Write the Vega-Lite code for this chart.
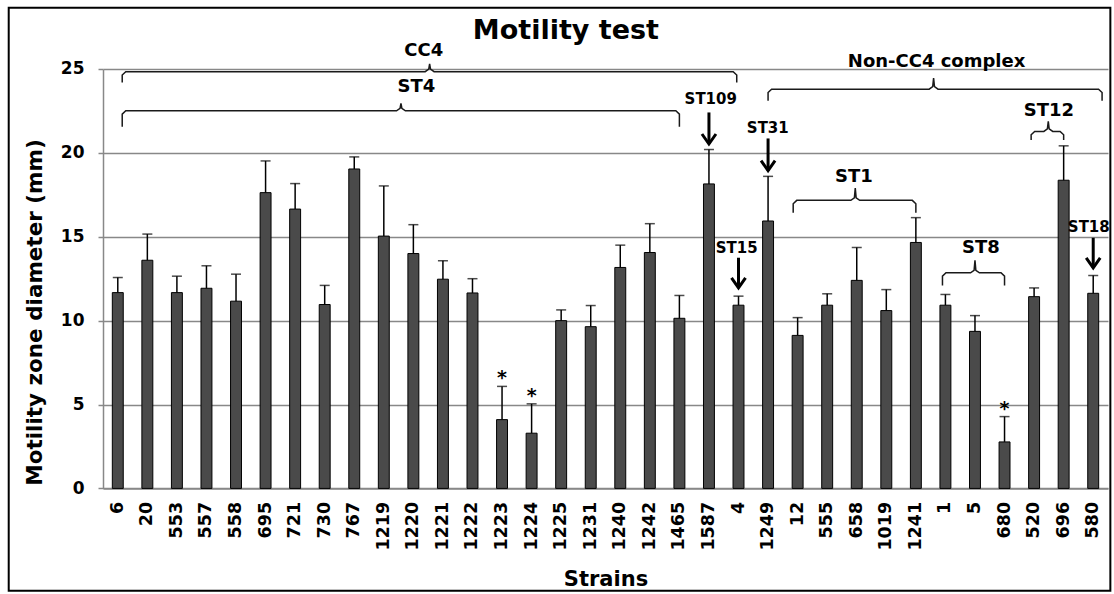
{
  "$schema": "https://vega.github.io/schema/vega-lite/v6.json",
  "width": 1005,
  "height": 419.4,
  "padding": {"left": 7, "top": 6, "right": 0, "bottom": 0},
  "autosize": {"type": "pad"},
  "background": "white",
  "config": {"view": {"stroke": null}, "font": "DejaVu Sans"},
  "datasets": {
    "bars": [
      {"strain": "6", "mean": 11.67, "err": 12.57},
      {"strain": "20", "mean": 13.6, "err": 15.16},
      {"strain": "553", "mean": 11.67, "err": 12.65},
      {"strain": "557", "mean": 11.93, "err": 13.27},
      {"strain": "558", "mean": 11.16, "err": 12.77},
      {"strain": "695", "mean": 17.63, "err": 19.52},
      {"strain": "721", "mean": 16.65, "err": 18.17},
      {"strain": "730", "mean": 10.96, "err": 12.1},
      {"strain": "767", "mean": 19.04, "err": 19.76},
      {"strain": "1219", "mean": 15.04, "err": 18.03},
      {"strain": "1220", "mean": 14.0, "err": 15.72},
      {"strain": "1221", "mean": 12.47, "err": 13.57},
      {"strain": "1222", "mean": 11.65, "err": 12.5},
      {"strain": "1223", "mean": 4.1, "err": 6.08, "sig": "*"},
      {"strain": "1224", "mean": 3.29, "err": 5.04, "sig": "*"},
      {"strain": "1225", "mean": 10.0, "err": 10.64},
      {"strain": "1231", "mean": 9.64, "err": 10.9},
      {"strain": "1240", "mean": 13.17, "err": 14.5},
      {"strain": "1242", "mean": 14.06, "err": 15.78},
      {"strain": "1465", "mean": 10.14, "err": 11.5},
      {"strain": "1587", "mean": 18.15, "err": 20.2},
      {"strain": "4", "mean": 10.92, "err": 11.46},
      {"strain": "1249", "mean": 15.94, "err": 18.6},
      {"strain": "12", "mean": 9.12, "err": 10.18},
      {"strain": "555", "mean": 10.92, "err": 11.6},
      {"strain": "658", "mean": 12.4, "err": 14.36},
      {"strain": "1019", "mean": 10.6, "err": 11.85},
      {"strain": "1241", "mean": 14.66, "err": 16.14},
      {"strain": "1", "mean": 10.92, "err": 11.56},
      {"strain": "5", "mean": 9.36, "err": 10.3},
      {"strain": "680", "mean": 2.77, "err": 4.28, "sig": "*"},
      {"strain": "520", "mean": 11.43, "err": 11.95},
      {"strain": "696", "mean": 18.37, "err": 20.42},
      {"strain": "580", "mean": 11.63, "err": 12.69}
    ],
    "labels": [
      {"t": "Motility test", "lvl": "title", "x": 15.66, "y": 27.25},
      {"t": "CC4", "lvl": "group", "x": 10.85, "y": 26.08},
      {"t": "ST4", "lvl": "group", "x": 10.6, "y": 23.9},
      {"t": "Non-CC4 complex", "lvl": "group", "x": 28.2, "y": 25.44},
      {"t": "ST1", "lvl": "group", "x": 25.4, "y": 18.57},
      {"t": "ST8", "lvl": "group", "x": 29.7, "y": 14.3},
      {"t": "ST12", "lvl": "group", "x": 32.0, "y": 22.5},
      {"t": "ST109", "lvl": "st", "x": 20.56, "y": 23.19},
      {"t": "ST31", "lvl": "st", "x": 22.49, "y": 21.48},
      {"t": "ST15", "lvl": "st", "x": 21.44, "y": 14.3},
      {"t": "ST18", "lvl": "st", "x": 33.35, "y": 15.6}
    ],
    "arrows": [
      {"a": "ST109", "x": 20.5, "y": 22.41, "tip": 20.53},
      {"a": "ST31", "x": 22.5, "y": 20.86, "tip": 18.94},
      {"a": "ST15", "x": 21.5, "y": 13.75, "tip": 11.95},
      {"a": "ST18", "x": 33.5, "y": 14.94, "tip": 13.15}
    ],
    "brackets": [
      {"g": "CC4", "o": 1, "x": 0.65, "y": 24.2},
      {"g": "CC4", "o": 2, "x": 0.65, "y": 24.64},
      {"g": "CC4", "o": 3, "x": 0.77, "y": 24.84},
      {"g": "CC4", "o": 4, "x": 10.9, "y": 24.84},
      {"g": "CC4", "o": 5, "x": 11.02, "y": 24.99},
      {"g": "CC4", "o": 6, "x": 11.05, "y": 25.3},
      {"g": "CC4", "o": 7, "x": 11.08, "y": 24.99},
      {"g": "CC4", "o": 8, "x": 11.2, "y": 24.84},
      {"g": "CC4", "o": 9, "x": 21.32, "y": 24.84},
      {"g": "CC4", "o": 10, "x": 21.44, "y": 24.64},
      {"g": "CC4", "o": 11, "x": 21.44, "y": 24.2},
      {"g": "ST4", "o": 1, "x": 0.65, "y": 21.55},
      {"g": "ST4", "o": 2, "x": 0.65, "y": 22.31},
      {"g": "ST4", "o": 3, "x": 0.77, "y": 22.51},
      {"g": "ST4", "o": 4, "x": 9.93, "y": 22.51},
      {"g": "ST4", "o": 5, "x": 10.05, "y": 22.66},
      {"g": "ST4", "o": 6, "x": 10.08, "y": 22.95},
      {"g": "ST4", "o": 7, "x": 10.11, "y": 22.66},
      {"g": "ST4", "o": 8, "x": 10.23, "y": 22.51},
      {"g": "ST4", "o": 9, "x": 19.38, "y": 22.51},
      {"g": "ST4", "o": 10, "x": 19.5, "y": 22.31},
      {"g": "ST4", "o": 11, "x": 19.5, "y": 21.55},
      {"g": "NonCC4", "o": 1, "x": 22.5, "y": 23.1},
      {"g": "NonCC4", "o": 2, "x": 22.5, "y": 23.6},
      {"g": "NonCC4", "o": 3, "x": 22.62, "y": 23.8},
      {"g": "NonCC4", "o": 4, "x": 27.95, "y": 23.8},
      {"g": "NonCC4", "o": 5, "x": 28.07, "y": 23.95},
      {"g": "NonCC4", "o": 6, "x": 28.1, "y": 24.46},
      {"g": "NonCC4", "o": 7, "x": 28.13, "y": 23.95},
      {"g": "NonCC4", "o": 8, "x": 28.25, "y": 23.8},
      {"g": "NonCC4", "o": 9, "x": 33.68, "y": 23.8},
      {"g": "NonCC4", "o": 10, "x": 33.8, "y": 23.6},
      {"g": "NonCC4", "o": 11, "x": 33.8, "y": 23.1},
      {"g": "ST1", "o": 1, "x": 23.35, "y": 16.43},
      {"g": "ST1", "o": 2, "x": 23.35, "y": 16.97},
      {"g": "ST1", "o": 3, "x": 23.47, "y": 17.17},
      {"g": "ST1", "o": 4, "x": 25.3, "y": 17.17},
      {"g": "ST1", "o": 5, "x": 25.42, "y": 17.32},
      {"g": "ST1", "o": 6, "x": 25.45, "y": 17.9},
      {"g": "ST1", "o": 7, "x": 25.48, "y": 17.32},
      {"g": "ST1", "o": 8, "x": 25.6, "y": 17.17},
      {"g": "ST1", "o": 9, "x": 27.38, "y": 17.17},
      {"g": "ST1", "o": 10, "x": 27.5, "y": 16.97},
      {"g": "ST1", "o": 11, "x": 27.5, "y": 16.43},
      {"g": "ST8", "o": 1, "x": 28.4, "y": 12.1},
      {"g": "ST8", "o": 2, "x": 28.4, "y": 12.65},
      {"g": "ST8", "o": 3, "x": 28.52, "y": 12.85},
      {"g": "ST8", "o": 4, "x": 29.35, "y": 12.85},
      {"g": "ST8", "o": 5, "x": 29.47, "y": 13.0},
      {"g": "ST8", "o": 6, "x": 29.5, "y": 13.6},
      {"g": "ST8", "o": 7, "x": 29.53, "y": 13.0},
      {"g": "ST8", "o": 8, "x": 29.65, "y": 12.85},
      {"g": "ST8", "o": 9, "x": 30.38, "y": 12.85},
      {"g": "ST8", "o": 10, "x": 30.5, "y": 12.65},
      {"g": "ST8", "o": 11, "x": 30.5, "y": 12.1},
      {"g": "ST12", "o": 1, "x": 31.4, "y": 20.77},
      {"g": "ST12", "o": 2, "x": 31.4, "y": 21.08},
      {"g": "ST12", "o": 3, "x": 31.52, "y": 21.28},
      {"g": "ST12", "o": 4, "x": 31.83, "y": 21.28},
      {"g": "ST12", "o": 5, "x": 31.95, "y": 21.43},
      {"g": "ST12", "o": 6, "x": 31.98, "y": 21.88},
      {"g": "ST12", "o": 7, "x": 32.01, "y": 21.43},
      {"g": "ST12", "o": 8, "x": 32.13, "y": 21.28},
      {"g": "ST12", "o": 9, "x": 32.38, "y": 21.28},
      {"g": "ST12", "o": 10, "x": 32.5, "y": 21.08},
      {"g": "ST12", "o": 11, "x": 32.5, "y": 20.77}
    ]
  },
  "layer": [
    {
      "data": {"name": "bars"},
      "encoding": {
        "x": {
          "field": "strain",
          "type": "nominal",
          "sort": null,
          "scale": {"paddingInner": 0.63, "paddingOuter": 0.315},
          "axis": {
            "title": "Strains",
            "titleFontSize": 21,
            "titleFontWeight": "bold",
            "titleColor": "black",
            "titleY": 97,
            "titleBaseline": "alphabetic",
            "labelAngle": 270,
            "labelFontSize": 17.5,
            "labelFontWeight": "bold",
            "labelColor": "black",
            "labelPadding": 13,
            "labelOverlap": false,
            "ticks": false,
            "tickSize": 0,
            "domainColor": "#888888",
            "domainWidth": 1.5,
            "grid": false
          }
        }
      },
      "layer": [
        {
          "mark": {"type": "bar", "fill": "#4a4a4a", "stroke": "#000000", "strokeWidth": 1},
          "encoding": {
            "y": {
              "field": "mean",
              "type": "quantitative",
              "scale": {"domain": [0, 25], "nice": false},
              "axis": {
                "title": "Motility zone diameter (mm)",
                "titleFontSize": 21.5,
                "titleFontWeight": "bold",
                "titleColor": "black",
                "titleX": -68,
                "titleY": 243,
                "titleBaseline": "middle",
                "titleAngle": 270,
                "titleAlign": "center",
                "values": [0, 5, 10, 15, 20, 25],
                "labelFontSize": 17,
                "labelFontWeight": "bold",
                "labelColor": "black",
                "labelPadding": 14,
                "tickSize": 5,
                "tickColor": "#888888",
                "tickWidth": 1.5,
                "domainColor": "#888888",
                "domainWidth": 1.5,
                "grid": true,
                "gridColor": "#888888",
                "gridWidth": 1.3
              }
            }
          }
        },
        {
          "mark": {"type": "rule", "color": "#000000", "strokeWidth": 1.5},
          "encoding": {
            "y": {"field": "mean", "type": "quantitative", "title": "Motility zone diameter (mm)"},
            "y2": {"field": "err"}
          }
        },
        {
          "mark": {"type": "tick", "color": "#000000", "size": 10, "thickness": 1.5},
          "encoding": {
            "y": {"field": "err", "type": "quantitative", "title": "Motility zone diameter (mm)"}
          }
        },
        {
          "transform": [{"filter": "datum.sig === '*'"}],
          "mark": {"type": "text", "fontSize": 19, "fontWeight": "bold", "baseline": "alphabetic", "dy": -2, "color": "#000000"},
          "encoding": {
            "y": {"field": "err", "type": "quantitative", "title": "Motility zone diameter (mm)"},
            "text": {"field": "sig"}
          }
        }
      ]
    },
    {
      "layer": [
        {
          "data": {"values": [{}]},
          "mark": {"type": "rect", "fill": null, "stroke": "#000000", "strokeWidth": 2},
          "encoding": {
            "x": {"datum": -3.19, "type": "quantitative", "scale": {"domain": [0, 34], "nice": false, "zero": false}, "axis": null},
            "x2": {"datum": 34.08},
            "y": {"datum": -6.1, "type": "quantitative", "title": "Motility zone diameter (mm)"},
            "y2": {"datum": 28.65}
          }
        },
        {
          "data": {"name": "brackets"},
          "mark": {"type": "line", "color": "#1a1a1a", "strokeWidth": 1.5},
          "encoding": {
            "x": {"field": "x", "type": "quantitative", "scale": {"domain": [0, 34], "nice": false, "zero": false}, "axis": null},
            "y": {"field": "y", "type": "quantitative", "title": "Motility zone diameter (mm)"},
            "detail": {"field": "g"},
            "order": {"field": "o"}
          }
        },
        {
          "data": {"name": "arrows"},
          "mark": {"type": "rule", "color": "#000000", "strokeWidth": 3},
          "encoding": {
            "x": {"field": "x", "type": "quantitative", "scale": {"domain": [0, 34], "nice": false, "zero": false}, "axis": null},
            "y": {"field": "y", "type": "quantitative", "title": "Motility zone diameter (mm)"},
            "y2": {"field": "tip"}
          }
        },
        {
          "data": {"name": "arrows"},
          "mark": {"type": "point", "shape": "M-0.7,-1L0,0L0.7,-1", "size": 400, "filled": false, "strokeWidth": 3, "color": "#000000", "opacity": 1},
          "encoding": {
            "x": {"field": "x", "type": "quantitative", "scale": {"domain": [0, 34], "nice": false, "zero": false}, "axis": null},
            "y": {"field": "tip", "type": "quantitative", "title": "Motility zone diameter (mm)"}
          }
        },
        {
          "data": {"name": "labels"},
          "transform": [{"filter": "datum.lvl === 'title'"}],
          "mark": {"type": "text", "fontSize": 27, "fontWeight": "bold", "baseline": "middle", "align": "center", "color": "#000000"},
          "encoding": {
            "x": {"field": "x", "type": "quantitative", "scale": {"domain": [0, 34], "nice": false, "zero": false}, "axis": null},
            "y": {"field": "y", "type": "quantitative", "title": "Motility zone diameter (mm)"},
            "text": {"field": "t"}
          }
        },
        {
          "data": {"name": "labels"},
          "transform": [{"filter": "datum.lvl === 'group'"}],
          "mark": {"type": "text", "fontSize": 18, "fontWeight": "bold", "baseline": "middle", "align": "center", "color": "#000000"},
          "encoding": {
            "x": {"field": "x", "type": "quantitative", "scale": {"domain": [0, 34], "nice": false, "zero": false}, "axis": null},
            "y": {"field": "y", "type": "quantitative", "title": "Motility zone diameter (mm)"},
            "text": {"field": "t"}
          }
        },
        {
          "data": {"name": "labels"},
          "transform": [{"filter": "datum.lvl === 'st'"}],
          "mark": {"type": "text", "fontSize": 15, "fontWeight": "bold", "baseline": "middle", "align": "center", "color": "#000000"},
          "encoding": {
            "x": {"field": "x", "type": "quantitative", "scale": {"domain": [0, 34], "nice": false, "zero": false}, "axis": null},
            "y": {"field": "y", "type": "quantitative", "title": "Motility zone diameter (mm)"},
            "text": {"field": "t"}
          }
        }
      ]
    }
  ],
  "resolve": {"scale": {"x": "independent"}}
}
